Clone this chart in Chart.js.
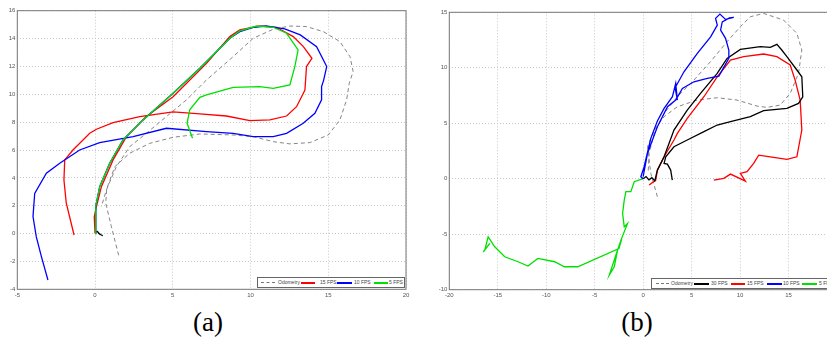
<!DOCTYPE html>
<html>
<head>
<meta charset="utf-8">
<script src="https://cdn.jsdelivr.net/npm/chart.js@4.4.1/dist/chart.umd.min.js"></script>
<style>
  body { margin: 0; width: 827px; height: 340px; overflow: hidden; background: #fff; position: relative; }
  .wrap { position: absolute; top: 0; }
  .legend { position: absolute; border: 1px solid #666; background: #fff; height: 9px; overflow: hidden;
            font: 5px "Liberation Sans", Arial, sans-serif; color: #444; white-space: nowrap; z-index: 5; }
  .legend span { position: absolute; display: block; }
  .legend .ln { top: 4px; height: 1.5px; }
  .legend .dash { top: 4px; height: 0; border-top: 1px dashed #777; }
  .legend .tx { top: 1px; line-height: 7px; }
  .cap { position: absolute; top: 307px; font: 27px "Liberation Serif", "DejaVu Serif", serif; color: #000; transform: translateX(-50%); }
</style>
</head>
<body>
<div class="wrap" style="left:0px"><canvas id="chartA" width="420" height="300"></canvas></div>
<div class="wrap" style="left:430px"><canvas id="chartB" width="430" height="300"></canvas></div>

<div class="legend" style="left:257px; top:277px; width:146px;">
  <span class="dash" style="left:3px; width:14px"></span><span class="tx" style="left:20px">Odometry</span>
  <span class="ln" style="left:43px; width:14px; background:#ff0000"></span><span class="tx" style="left:62px">15 FPS</span>
  <span class="ln" style="left:79px; width:15px; background:#0000ff"></span><span class="tx" style="left:96px">10 FPS</span>
  <span class="ln" style="left:116px; width:14px; background:#00e000"></span><span class="tx" style="left:131px">5 FPS</span>
</div>
<div class="legend" style="left:651px; top:278px; width:180px;">
  <span class="dash" style="left:4px; width:13px"></span><span class="tx" style="left:19px">Odometry</span>
  <span class="ln" style="left:42px; width:15px; background:#000000"></span><span class="tx" style="left:59px">30 FPS</span>
  <span class="ln" style="left:79px; width:14px; background:#ff0000"></span><span class="tx" style="left:95px">15 FPS</span>
  <span class="ln" style="left:115px; width:15px; background:#0000ff"></span><span class="tx" style="left:131px">10 FPS</span>
  <span class="ln" style="left:150px; width:15px; background:#00e000"></span><span class="tx" style="left:167px">5 FPS</span>
</div>

<div class="cap" style="left:208px">(a)</div>
<div class="cap" style="left:637px">(b)</div>

<script>
// ---- (a) trajectories ----
const odoAX = [1.52, 1.05, 0.69, 0.75, 1.27, 2.23, 3.52, 5.02, 6.74, 8.88, 10.17, 11.46, 12.53, 13.82, 15.0, 15.75, 16.18, 16.35, 16.6, 16.4, 15.75, 14.68, 13.6, 12.53, 11.46, 10.17, 8.88, 7.17, 5.88, 4.59, 3.3, 2.23, 1.37, 0.73, 0.41];
const odoAY = [-1.56, 0.5, 2.18, 3.2, 4.8, 5.77, 6.48, 6.91, 7.15, 7.08, 6.96, 6.6, 6.44, 6.53, 7.08, 8.16, 9.6, 10.79, 11.63, 12.7, 13.78, 14.5, 14.86, 14.9, 14.67, 14.02, 12.7, 11.03, 9.6, 8.4, 7.2, 6.24, 4.8, 3.13, 1.94];

const redAX = [0, -0.05, 0.04, 0.41, 1.16, 2.02, 3.3, 5.02, 7.17, 8.67, 9.31, 10.6, 11.67, 12.75, 13.4, 13.95, 13.6, 13.5, 12.96, 12.32, 11.24, 9.96, 8.45, 6.74, 5.02, 2.88, 1.16, 0.09, -0.34, -1.42, -1.95, -2.0, -1.85, -1.35];
const redAY = [0, 1.2, 1.7, 3.37, 5.29, 6.96, 8.4, 9.83, 12.22, 14.14, 14.62, 14.9, 14.81, 14.14, 13.42, 12.58, 11.99, 10.31, 9.11, 8.44, 8.16, 8.11, 8.44, 8.6, 8.73, 8.4, 7.97, 7.49, 7.2, 6.0, 5.29, 3.85, 2.18, -0.1];

const blueAX = [0, 0.05, 0.3, 0.94, 1.8, 3.09, 5.02, 6.74, 8.67, 9.31, 10.17, 11.0, 12.2, 13.2, 14.25, 14.9, 14.7, 14.57, 14.57, 14.14, 13.39, 12.32, 11.46, 10.17, 8.88, 7.17, 4.59, 2.45, 0.3, -0.99, -2.27, -3.13, -3.88, -3.99, -3.78, -3.45, -3.03];
const blueAY = [0, 2.0, 3.37, 5.05, 6.72, 8.16, 10.07, 11.87, 14.02, 14.5, 14.81, 14.9, 14.7, 14.26, 13.42, 11.99, 11.0, 10.55, 9.6, 8.64, 7.92, 7.2, 6.96, 6.96, 7.2, 7.32, 7.56, 6.96, 6.53, 6.0, 5.05, 4.33, 2.89, 1.22, -0.22, -1.65, -3.33];

const greenAX = [0, 0.05, 0.3, 0.94, 1.8, 3.09, 5.02, 6.74, 8.67, 9.31, 10.4, 11.46, 12.32, 13.06, 12.85, 12.53, 11.46, 10.6, 8.88, 7.17, 6.74, 6.09, 5.92, 6.27];
const greenAY = [0, 2.0, 3.37, 5.05, 6.72, 8.16, 10.07, 11.87, 14.02, 14.55, 14.9, 14.81, 14.38, 13.18, 11.99, 10.67, 10.43, 10.55, 10.5, 9.95, 9.78, 8.88, 7.92, 6.84];

const blackAX = [0, 0.15, 0.3, 0.2, 0.4, 0.5];
const blackAY = [0.1, 0.15, -0.05, 0.05, -0.1, -0.15];

// ---- (b) trajectories ----
const odoBX = [1.47, 0.79, 0.45, 1.13, 2.16, 3.53, 5.58, 7.64, 9.69, 11.75, 12.77, 14.14, 15.17, 16.03, 16.37, 15.86, 14.49, 12.43, 11.06, 10.03, 8.66, 6.95, 5.24, 3.53, 2.16, 1.13, 0.62, 0.51];
const odoBY = [-1.62, 0.48, 2.88, 4.39, 5.59, 6.49, 7.09, 7.3, 7.09, 6.55, 6.43, 6.64, 7.69, 9.5, 11.6, 13.1, 14.3, 14.9, 14.6, 13.7, 12.35, 10.55, 8.89, 7.39, 5.89, 4.09, 2.28, 0.48];

const blackBX = [0, 0.3, 0.6, 0.9, 1.2, 1.47, 2.16, 3.18, 4.55, 5.92, 7.64, 8.66, 10.03, 12.09, 13.12, 13.8, 14.3, 14.83, 15.86, 16.37, 16.47, 16.03, 14.83, 12.43, 11.06, 9.01, 7.64, 6.27, 4.55, 3.18, 2.33, 2.16, 2.5, 2.84, 3.01];
const blackBY = [0, 0.2, -0.1, 0.1, -0.2, 0.78, 1.98, 4.39, 6.19, 7.69, 9.5, 10.85, 11.66, 11.9, 11.84, 12.11, 11.6, 11.0, 9.8, 9.19, 7.39, 6.79, 6.34, 6.13, 5.59, 5.14, 4.84, 4.24, 3.49, 2.88, 1.98, 1.38, 1.32, 0.78, -0.12];

const redBX = [0.62, 1.3, 1.47, 2.16, 3.18, 3.53, 4.55, 6.27, 7.64, 9.01, 10.38, 12.43, 13.8, 15.17, 15.68, 16.2, 16.37, 15.86, 14.83, 13.12, 11.92, 11.4, 10.72, 10.03, 10.55, 9.01, 8.32, 7.29];
const redBY = [-0.57, -0.12, 0.78, 1.98, 3.49, 4.09, 5.44, 7.39, 9.19, 10.7, 11.0, 11.24, 11.0, 10.25, 8.89, 7.09, 4.39, 1.98, 1.74, 1.98, 2.13, 1.38, 0.63, 0.48, -0.22, 0.42, 0.03, -0.12];

const blueBX = [0, -0.24, 0.1, 0.79, 1.47, 2.16, 3.02, 3.36, 3.53, 3.3, 4.21, 5.59, 6.96, 7.65, 7.47, 7.92, 8.5, 9.35, 8.9, 8.16, 7.99, 8.5, 8.84, 8.84, 7.81, 6.62, 5.24, 4.05, 3.36, 2.51, 1.47, 0.96, 0.45, 0];
const blueBY = [0, 0.18, 1.08, 3.64, 5.2, 6.34, 7.39, 8.6, 7.09, 8.2, 9.64, 11.3, 12.79, 13.85, 14.45, 14.84, 14.36, 14.54, 14.5, 14.14, 13.4, 12.65, 11.6, 10.85, 9.25, 9.04, 8.74, 8.14, 7.09, 6.49, 4.69, 3.49, 2.28, 0.18];

const greenBX = [0, -0.92, -1.27, -1.78, -1.95, -2.12, -1.95, -1.61, -2.29, -2.64, -2.98, -3.49, -2.64, -2.2, -2.5, -6.75, -8.12, -9.14, -10.86, -11.88, -12.91, -14.28, -15.31, -15.99, -16.34, -15.82, -16.5];
const greenBY = [0, -0.27, -1.17, -1.17, -1.92, -3.13, -4.33, -4.03, -5.53, -6.43, -7.93, -8.68, -6.43, -5.4, -6.3, -7.93, -7.93, -7.48, -7.18, -7.87, -7.48, -7.03, -6.13, -5.23, -6.43, -5.83, -6.6];

function pts(xs, ys) {
  return xs.map((x, i) => ({ x: x, y: ys[i] }));
}

function line(label, xs, ys, color, order, dashed) {
  return {
    label: label,
    data: pts(xs, ys),
    showLine: true,
    borderColor: color,
    backgroundColor: color,
    borderWidth: dashed ? 0.9 : 1.3,
    borderDash: dashed ? [4, 3] : [],
    pointRadius: 0,
    tension: 0,
    order: order
  };
}

// solid frame round the plot area
const frame = {
  id: 'frame',
  afterDraw(chart) {
    const a = chart.chartArea, ctx = chart.ctx;
    ctx.save();
    ctx.strokeStyle = '#777';
    ctx.lineWidth = 1;
    ctx.strokeRect(a.left, a.top, a.right - a.left, a.bottom - a.top);
    ctx.restore();
  }
};

function axis(min, max, step, isY, size) {
  return {
    type: 'linear',
    position: isY ? 'left' : 'bottom',
    min: min, max: max,
    ticks: { stepSize: step, font: { size: 6, family: 'Liberation Sans' }, color: '#555', padding: 2, maxRotation: 0 },
    grid: { color: '#c8c8c8', lineWidth: 1, drawTicks: false, borderDash: [1, 2] },
    border: { display: false, dash: [1, 2] },
    afterFit: s => { if (isY) s.width = size; else s.height = size; }
  };
}

function opts(xa, ya, pad) {
  return {
    responsive: false,
    animation: false,
    layout: { padding: pad },
    plugins: { legend: { display: false }, tooltip: { enabled: false } },
    scales: { x: xa, y: ya }
  };
}

new Chart(document.getElementById('chartA'), {
  type: 'scatter',
  data: {
    datasets: [
      line('5 FPS', greenAX, greenAY, '#00e000', 0),
      line('10 FPS', blueAX, blueAY, '#0000ff', 1),
      line('15 FPS', redAX, redAY, '#ff0000', 2),
      line('30 FPS', blackAX, blackAY, '#000000', 3),
      line('Odometry', odoAX, odoAY, '#777777', 4, true)
    ]
  },
  options: opts(axis(-5, 20, 5, false, 10.7), axis(-4, 16, 2, true, 17.3), { left: 0, right: 14, top: 10.7, bottom: 0 }),
  plugins: [frame]
});

new Chart(document.getElementById('chartB'), {
  type: 'scatter',
  data: {
    datasets: [
      line('10 FPS', blueBX, blueBY, '#0000ff', 0),
      line('30 FPS', blackBX, blackBY, '#000000', 1),
      line('15 FPS', redBX, redBY, '#ff0000', 2),
      line('5 FPS', greenBX, greenBY, '#00e000', 3),
      line('Odometry', odoBX, odoBY, '#777777', 4, true)
    ]
  },
  options: opts(axis(-20, 20, 5, false, 10.3), axis(-10, 15, 5, true, 19.3), { left: 0, right: 23, top: 12.3, bottom: 0 }),
  plugins: [frame]
});
</script>
</body>
</html>
